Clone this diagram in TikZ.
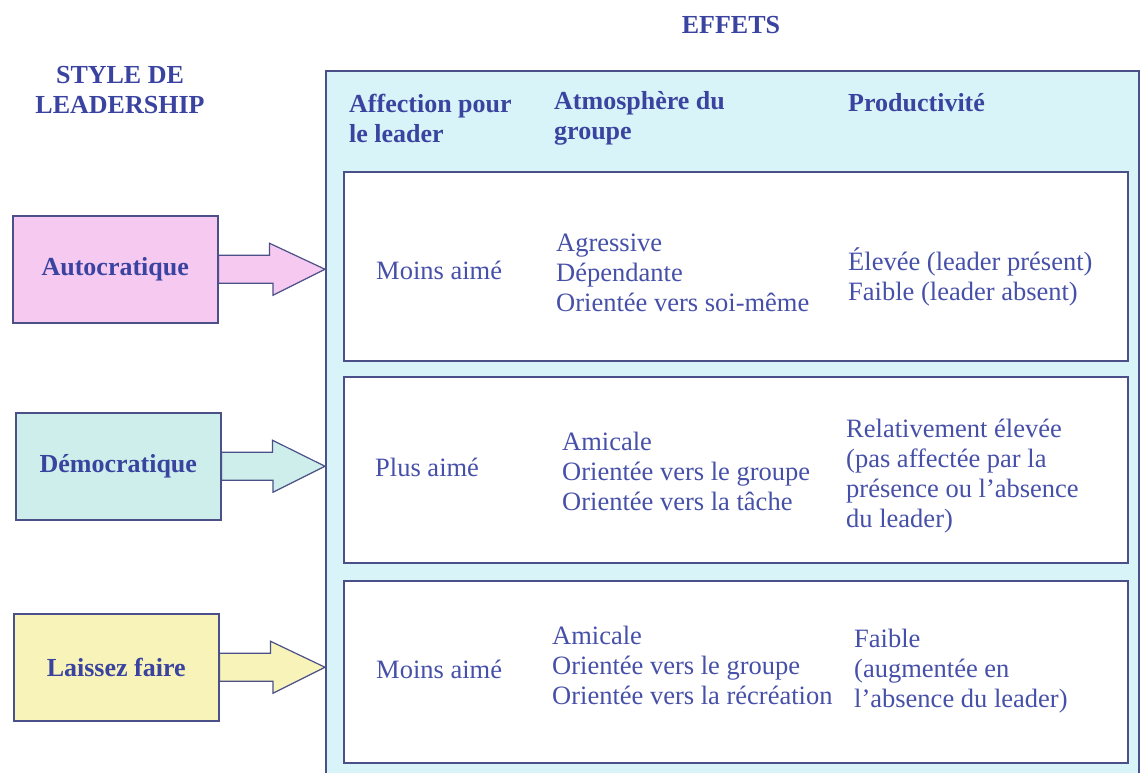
\documentclass[tikz,border=0pt]{standalone}
\usepackage{fontspec}
\setmainfont{Liberation Serif}
\usetikzlibrary{positioning}
\definecolor{inkblue}{HTML}{4650A8}
\definecolor{headblue}{HTML}{3A44A0}
\definecolor{framegray}{HTML}{4C5088}
\definecolor{panelcyan}{HTML}{D8F4F8}
\definecolor{autopink}{HTML}{F6C9F0}
\definecolor{demogreen}{HTML}{CDEEEA}
\definecolor{laisyellow}{HTML}{F8F3B8}
\tikzset{
  head/.style={font=\bfseries\fontsize{26}{30}\selectfont, text=headblue, align=left, anchor=west, inner sep=0},
  body/.style={font=\fontsize{26.5}{30}\selectfont, text=inkblue, align=left, anchor=west, inner sep=0},
  stylebox/.style={draw=framegray, line width=1.5pt, minimum width=205pt, minimum height=107pt, anchor=north west, font=\bfseries\fontsize{26}{30}\selectfont, text=headblue},
  rowbox/.style={draw=framegray, line width=1.5pt, fill=white, minimum width=784pt, anchor=north west},
  blockarrow/.style={draw=framegray, line width=1.2pt, line join=miter},
}
\begin{document}
\begin{tikzpicture}[x=1pt, y=-1pt]
			\useasboundingbox (0,0) rectangle (1140,773);
			\clip (0,0) rectangle (1140,773);
			%Panel
			\node[draw=framegray, line width=2pt, fill=panelcyan, minimum width=813pt, minimum height=740pt, anchor=north west] (panel) at (325,70) {};
			\node[rowbox, minimum height=189pt] (rowA) at (343,171) {};
			\node[rowbox, minimum height=186pt] (rowB) at (343,376) {};
			\node[rowbox, minimum height=182pt] (rowC) at (343,580) {};
			%Titles
			\node[head, anchor=center] (effets) at (731,25) {EFFETS};
			\node[head, anchor=center, align=center] (stylehead) at (120,90) {STYLE DE\\LEADERSHIP};
			\node[head] (affhead) at (349,118) {Affection pour\\le leader};
			\node[head] (atmohead) at (554,118) {Atmosphère du\\groupe};
			\node[head] (prodhead) at (848,103) {Productivité};
			%Styles
			\node[stylebox, fill=autopink] (auto) at (12,215) {Autocratique};
			\node[stylebox, fill=demogreen] (demo) at (15,412) {Démocratique};
			\node[stylebox, fill=laisyellow] (lais) at (13,613) {Laissez faire};
			%Arrows
			\draw[blockarrow, fill=autopink] ([yshift=14pt]auto.east) -- ++(51,0) -- ++(0,-12) -- (auto.east -| panel.west) -- ++(-52,26) -- ++(0,-12) -- ([yshift=-14pt]auto.east) -- cycle;
			\draw[blockarrow, fill=demogreen] ([yshift=14pt]demo.east) -- ++(51,0) -- ++(0,-12) -- (demo.east -| panel.west) -- ++(-52,26) -- ++(0,-12) -- ([yshift=-14pt]demo.east) -- cycle;
			\draw[blockarrow, fill=laisyellow] ([yshift=14pt]lais.east) -- ++(51,0) -- ++(0,-12) -- (lais.east -| panel.west) -- ++(-52,26) -- ++(0,-12) -- ([yshift=-14pt]lais.east) -- cycle;
			%Effects
			\node[body] (likeA) at (376,270) {Moins aimé};
			\node[body] (atmoA) at (556,273) {Agressive\\Dépendante\\Orientée vers soi-même};
			\node[body] (prodA) at (848,277) {Élevée (leader présent)\\Faible (leader absent)};
			\node[body] (likeB) at (375,467) {Plus aimé};
			\node[body] (atmoB) at (562,471) {Amicale\\Orientée vers le groupe\\Orientée vers la tâche};
			\node[body] (prodB) at (846,476) {Relativement élevée\\(pas affectée par la\\présence ou l'absence\\du leader)};
			\node[body] (likeC) at (376,669) {Moins aimé};
			\node[body] (atmoC) at (552,665) {Amicale\\Orientée vers le groupe\\Orientée vers la récréation};
			\node[body] (prodC) at (854,671) {Faible\\(augmentée en\\l’absence du leader)};
\end{tikzpicture}
\end{document}
